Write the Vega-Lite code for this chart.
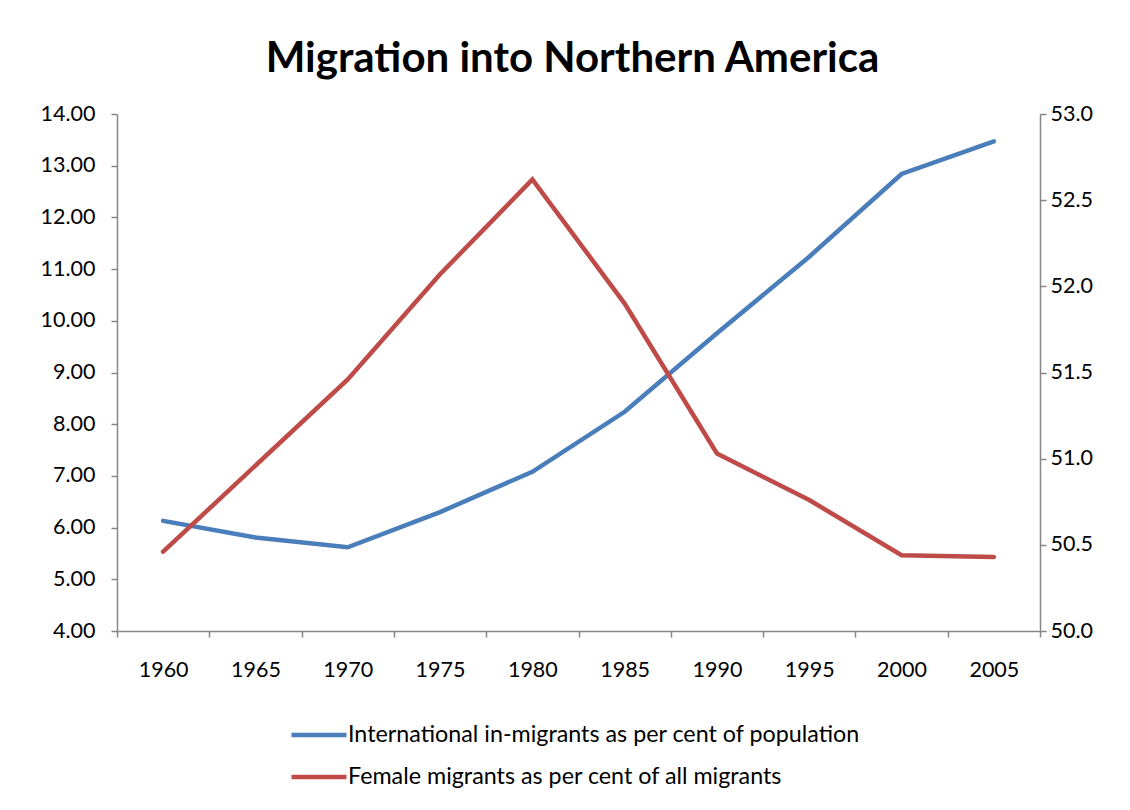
{
  "$schema": "https://vega.github.io/schema/vega-lite/v6.json",
  "width": 923,
  "height": 517,
  "autosize": "none",
  "padding": {"left": 117, "top": 114, "right": 90, "bottom": 179},
  "background": "white",
  "title": {
    "text": "Migration into Northern America",
    "font": "Lato",
    "fontSize": 42,
    "fontWeight": "bold",
    "color": "black",
    "anchor": "middle",
    "offset": 22,
    "dx": -6
  },
  "data": {
    "values": [
      {"year": "1960", "intl": 6.13, "female": 50.46},
      {"year": "1965", "intl": 5.81, "female": 50.96},
      {"year": "1970", "intl": 5.62, "female": 51.46},
      {"year": "1975", "intl": 6.30, "female": 52.07},
      {"year": "1980", "intl": 7.08, "female": 52.62},
      {"year": "1985", "intl": 8.24, "female": 51.90},
      {"year": "1990", "intl": 9.76, "female": 51.03},
      {"year": "1995", "intl": 11.24, "female": 50.76},
      {"year": "2000", "intl": 12.84, "female": 50.44},
      {"year": "2005", "intl": 13.47, "female": 50.43}
    ]
  },
  "config": {
    "view": {"stroke": null},
    "axis": {
      "labelFont": "Lato",
      "labelFontSize": 21.5,
      "labelColor": "black",
      "domainColor": "#868686",
      "tickColor": "#868686",
      "domainWidth": 1.5,
      "tickWidth": 1.5,
      "tickSize": 6,
      "grid": false,
      "title": null
    }
  },
  "encoding": {
    "x": {
      "field": "year",
      "type": "ordinal",
      "bandPosition": 0.5,
      "scale": {"type": "band", "paddingInner": 0, "paddingOuter": 0},
      "axis": {"labelAngle": 0, "tickBand": "extent", "labelPadding": 22}
    }
  },
  "layer": [
    {
      "mark": {"type": "line", "strokeWidth": 4.5, "strokeCap": "round"},
      "encoding": {
        "y": {
          "field": "intl",
          "type": "quantitative",
          "scale": {"domain": [4, 14], "nice": false, "zero": false},
          "axis": {"orient": "left", "values": [4,5,6,7,8,9,10,11,12,13,14], "format": ".2f", "labelPadding": 16}
        },
        "color": {
          "datum": "International in-migrants as per cent of population",
          "type": "nominal",
          "scale": {
            "domain": ["International in-migrants as per cent of population", "Female migrants as per cent of all migrants"],
            "range": ["#4A7EBB", "#BE4B48"]
          },
          "legend": {
            "orient": "none",
            "legendX": 172,
            "legendY": 591,
            "title": null,
            "symbolType": "stroke",
            "symbolSize": 3025,
            "symbolStrokeWidth": 4.5,
            "labelFont": "Lato",
            "labelFontSize": 23.3,
            "labelColor": "black",
            "labelOffset": -1,
            "labelLimit": 800,
            "rowPadding": -7
          }
        }
      }
    },
    {
      "mark": {"type": "line", "strokeWidth": 4.5, "strokeCap": "round"},
      "encoding": {
        "y": {
          "field": "female",
          "type": "quantitative",
          "scale": {"domain": [50, 53], "nice": false, "zero": false},
          "axis": {"orient": "right", "values": [50, 50.5, 51, 51.5, 52, 52.5, 53], "format": ".1f", "labelPadding": 4}
        },
        "color": {
          "datum": "Female migrants as per cent of all migrants",
          "type": "nominal"
        }
      }
    }
  ],
  "resolve": {"scale": {"y": "independent"}}
}
